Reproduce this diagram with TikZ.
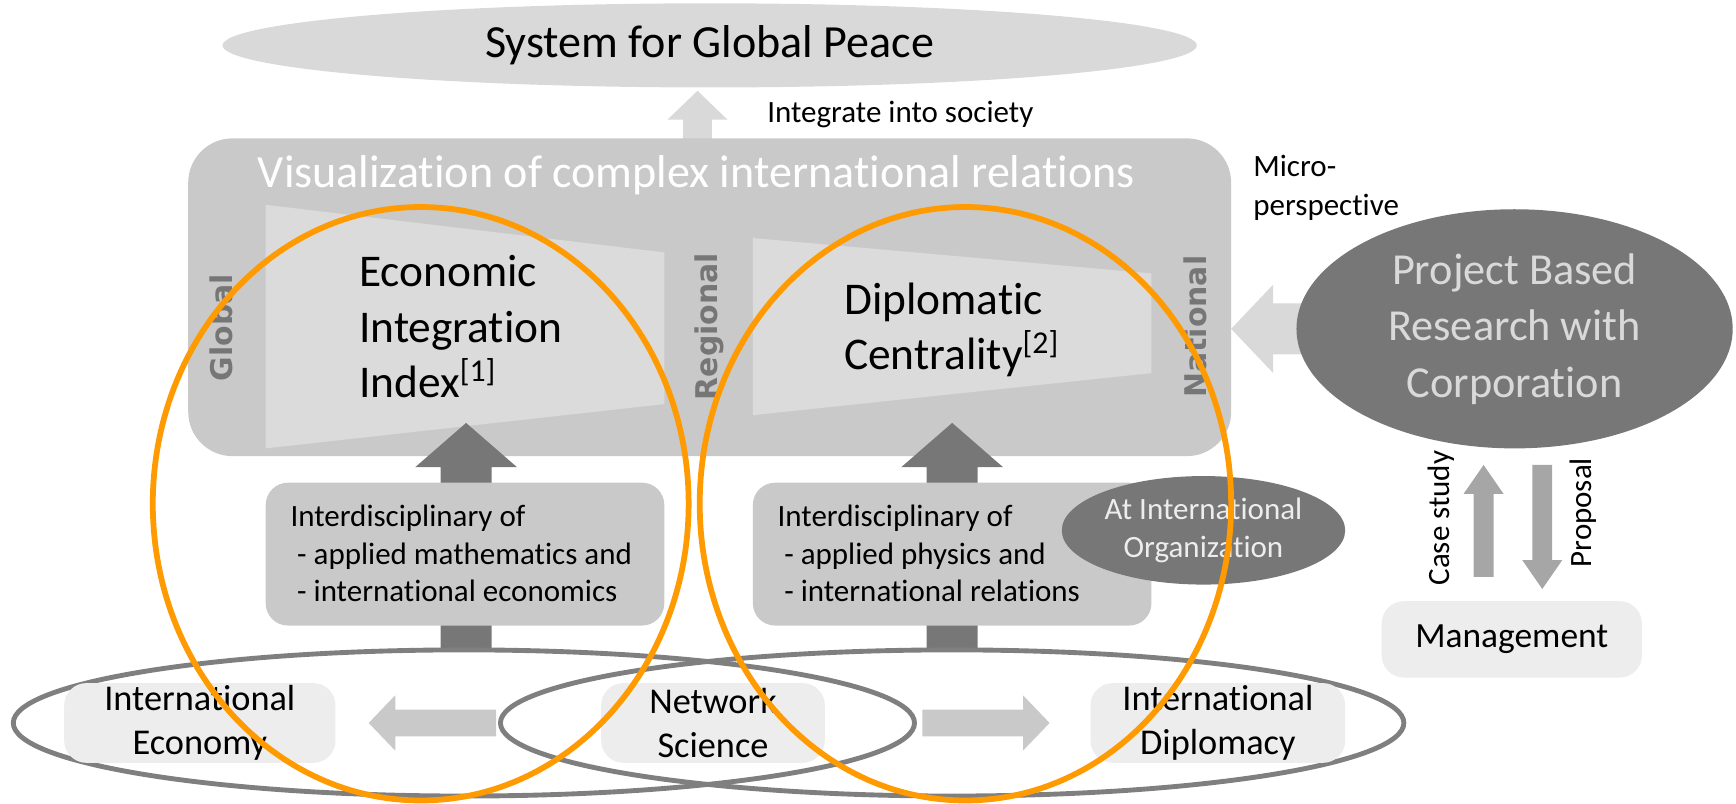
\documentclass[tikz,border=0pt]{standalone}
\usepackage{fontspec}
\setmainfont{Carlito}[Ligatures={NoCommon,NoContextual}]
\newfontfamily\labelfont{DejaVu Sans}
\usetikzlibrary{shapes.geometric,calc}
\definecolor{cLight}{HTML}{D9D9D9}
\definecolor{cBox}{HTML}{C9C9C9}
\definecolor{cTrap}{HTML}{DBDBDB}
\definecolor{cDark}{HTML}{777777}
\definecolor{cPale}{HTML}{EDEDED}
\definecolor{cRing}{HTML}{7F7F7F}
\definecolor{cMid}{HTML}{A6A6A6}
\definecolor{cArrow}{HTML}{C9C9C9}
\definecolor{cOrange}{HTML}{FF9A00}
\definecolor{cLabel}{HTML}{767676}
\newcommand{\blockarrow}[6]{%
  \coordinate (bah) at ($(#2)!#5!(#1)$);
  \fill[#6] ($(#1)!#3!90:(#2)$) -- ($(bah)!#3!-90:(#1)$) -- ($(bah)!#4!-90:(#1)$) -- (#2) -- ($(bah)!#4!90:(#1)$) -- ($(bah)!#3!90:(#1)$) -- ($(#1)!#3!-90:(#2)$) -- cycle;}
\begin{document}
\begin{tikzpicture}[x=0.5pt,y=-0.5pt,
  big/.style={font=\fontsize{20.8pt}{25pt}\selectfont},
  mid/.style={font=\fontsize{20.5pt}{25.25pt}\selectfont},
  small/.style={font=\fontsize{14pt}{17pt}\selectfont},
  botf/.style={font=\fontsize{16.4pt}{19.75pt}\selectfont},
  vlabel/.style={font=\labelfont\bfseries\fontsize{13.5pt}{16pt}\selectfont, text=cLabel, rotate=90, inner sep=0},
  rbox/.style={rectangle, rounded corners=#1, inner sep=0},
  oval/.style={ellipse, inner sep=0},
  ring/.style={ellipse, inner sep=0, draw=cRing, line width=2.2pt},
  orange/.style={ellipse, inner sep=0, draw=cOrange, line width=2.6pt}
]
\path[use as bounding box] (0,0) rectangle (1568,726);

% top
\node[oval, fill=cLight, minimum width=440pt, minimum height=38pt] (peace) at (641,41) {};
\node[big] (peacet) at (peace.center) {System for Global Peace};
\coordinate (integTail) at (630,132);
\coordinate (integTip) at (630,82);
\blockarrow{integTail}{integTip}{6.5pt}{13.5pt}{13pt}{cLight}
\node[small, anchor=west] (integ) at (686,103) {Integrate into society};

% big box
\node[rbox=20pt, fill=cBox, minimum width=471pt, minimum height=143.5pt] (vis) at (641,268.5) {};
\node[big, text=white] (vist) at (629,158) {Visualization of complex international relations};
\fill[cTrap] (240,185) -- (600,228) -- (600,365) -- (240,405) -- cycle;
\fill[cTrap] (680,215) -- (1040,247) -- (1040,337) -- (680,375) -- cycle;
\node[vlabel] (glob) at (200,296) {Global};
\node[vlabel] (reg) at (641,295) {Regional};
\node[vlabel] (nat) at (1080,295) {National};
\node[mid, anchor=west, align=left, inner sep=0] (eii) at (324,295) {Economic\\Integration\\Index\textsuperscript{[1]}};
\node[mid, anchor=west, align=left, inner sep=0] (dc) at (762,298) {Diplomatic\\Centrality\textsuperscript{[2]}};

% project based research
\coordinate (pbTail) at (1185,297);
\coordinate (pbTip) at (1112,297);
\blockarrow{pbTail}{pbTip}{11.5pt}{20pt}{19pt}{cLight}
\node[oval, fill=cDark, minimum width=197pt, minimum height=108pt] (pb) at (1368,297) {};
\node[mid, text=cLight, align=center, font=\fontsize{20pt}{25.5pt}\selectfont] (pbt) at (pb.center) {Project Based\\Research with\\Corporation};
\node[small, anchor=west, align=left, font=\fontsize{14pt}{17.5pt}\selectfont] (micro) at (1125,170) {Micro-\\perspective};

% dark arrows and interdisciplinary boxes
\coordinate (dLtail) at (421,586);
\coordinate (dLtip) at (421,382);
\coordinate (dRtail) at (860,586);
\coordinate (dRtip) at (860,382);
\blockarrow{dLtail}{dLtip}{11.5pt}{23pt}{20pt}{cDark}
\blockarrow{dRtail}{dRtip}{11.5pt}{23pt}{20pt}{cDark}
\node[rbox=10pt, fill=cBox, minimum width=180pt, minimum height=64.5pt] (intL) at (420,500.5) {};
\node[rbox=10pt, fill=cBox, minimum width=180pt, minimum height=64.5pt] (intR) at (860,500.5) {};
\node[small, anchor=west, align=left, inner sep=0] (intLt) at (262,500) {Interdisciplinary of\\\hspace{3pt}- applied mathematics and\\\hspace{3pt}- international economics};
\node[small, anchor=west, align=left, inner sep=0] (intRt) at (702,500) {Interdisciplinary of\\\hspace{3pt}- applied physics and\\\hspace{3pt}- international relations};
\node[oval, fill=cDark, minimum width=128pt, minimum height=49pt] (io) at (1087,479) {};
\node[small, text=cPale, align=center] (iot) at (io.center) {At International\\Organization};

% case study / proposal
\coordinate (csTail) at (1340,521);
\coordinate (csTip) at (1340,420);
\coordinate (prTail) at (1393,420);
\coordinate (prTip) at (1393,532);
\blockarrow{csTail}{csTip}{4.5pt}{9pt}{13pt}{cMid}
\blockarrow{prTail}{prTip}{4.5pt}{9pt}{13pt}{cMid}
\node[small, rotate=90, inner sep=0] (cs) at (1302,468) {Case study};
\node[small, rotate=90, inner sep=0] (pr) at (1430,463) {Proposal};
\node[rbox=10pt, fill=cPale, minimum width=117.5pt, minimum height=34.5pt] (mgmt) at (1365.5,577.5) {};
\node[font=\fontsize{16pt}{19pt}\selectfont] (mgmtt) at (mgmt.center) {Management};

% bottom
\node[ring, minimum width=407pt, minimum height=66pt] (ringL) at (419,653) {};
\node[ring, minimum width=408pt, minimum height=66pt] (ringR) at (860,653) {};
\node[rbox=10pt, fill=cPale, minimum width=122.5pt, minimum height=36pt, botf, align=center] (econ) at (180.5,653) {International\\Economy};
\node[rbox=10pt, fill=cPale, minimum width=101pt, minimum height=36pt, botf, align=center] (net) at (644,653) {Network\\Science};
\node[rbox=10pt, fill=cPale, minimum width=115pt, minimum height=36pt, botf, align=center] (dipl) at (1100,653) {International\\Diplomacy};
\coordinate (aLtail) at (448,653);
\coordinate (aLtip) at (333,653);
\coordinate (aRtail) at (833,653);
\coordinate (aRtip) at (948,653);
\blockarrow{aLtail}{aLtip}{6pt}{12.5pt}{12pt}{cArrow}
\blockarrow{aRtail}{aRtip}{6pt}{12.5pt}{12pt}{cArrow}

% orange highlights
\node[orange, minimum width=242pt, minimum height=268pt] (oL) at (380,455) {};
\node[orange, minimum width=240pt, minimum height=268pt] (oR) at (872,455) {};
\end{tikzpicture}
\end{document}
